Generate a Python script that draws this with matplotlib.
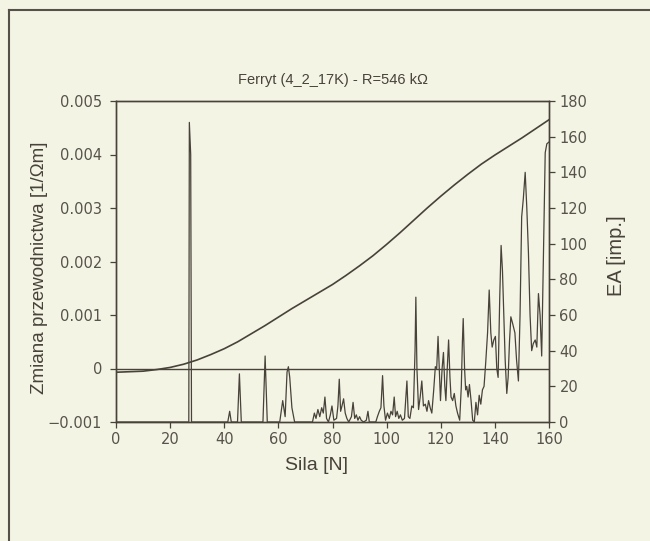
import matplotlib
matplotlib.use("Agg")
import matplotlib.pyplot as plt
from matplotlib.lines import Line2D

# ---- data ----
force_curve = [0, 5, 10, 15, 20, 25, 30, 35, 40, 45, 50, 55, 60, 65, 70, 75, 80,
               85, 90, 95, 100, 105, 110, 115, 120, 125, 130, 135, 140, 145, 150, 155, 160]
conductivity = [-0.07, -0.06, -0.05, -0.02, 0.02, 0.08, 0.16, 0.26, 0.37, 0.50, 0.65,
                0.80, 0.96, 1.12, 1.27, 1.42, 1.57, 1.74, 1.92, 2.11, 2.32, 2.54, 2.77,
                3.00, 3.22, 3.43, 3.63, 3.82, 3.99, 4.15, 4.31, 4.48, 4.65]
conductivity = [v * 1e-3 for v in conductivity]

ea_force = [0, 26.9, 27.1, 27.6, 27.9,
            41.3, 42.0, 42.6,
            44.9, 45.6, 46.3,
            54.3, 55.1, 55.9,
            60.5, 61.6, 62.5, 63.2, 63.7, 64.2, 65.0, 66.0,
            72.6, 73.3, 73.9, 74.6, 75.3, 76.0, 76.6, 77.2, 77.8, 78.5, 79.2, 79.8, 80.5,
            81.5, 82.0, 82.5, 83.0, 83.5, 84.1, 84.7, 85.3, 86.0, 87.0, 87.6, 88.2, 88.8,
            89.4, 90.0, 90.6, 91.5, 92.5, 93.1, 93.6, 96.0, 96.6, 97.3, 97.9, 98.5, 99.0,
            99.6, 100.3, 101.0, 101.6, 102.2, 102.8, 103.3, 103.9, 104.5, 105.1, 105.8,
            106.6, 107.5, 108.0, 108.6, 109.3, 109.9, 110.5, 110.8, 111.2, 111.8, 112.4,
            113.0, 113.6, 114.3, 114.9, 115.5, 116.1, 116.7, 117.4, 118.0, 118.5, 119.0,
            119.5, 119.9, 120.5, 121.0, 121.5, 121.9, 122.4, 122.9, 123.4, 123.8, 124.4,
            125.0, 125.6, 126.2, 127.0, 127.6, 128.0, 128.3, 128.8, 129.2, 129.6, 130.1,
            130.6, 131.2, 131.8, 132.4, 133.0, 133.6, 134.2, 134.8, 135.4, 136.0, 136.6,
            137.3, 137.9, 138.5, 139.0, 139.6, 140.2, 140.7, 141.2, 141.8, 142.3, 142.8,
            143.3, 143.8, 144.4, 144.9, 145.4, 145.9, 146.6, 147.4, 148.0, 148.7, 149.3,
            149.9, 150.5, 151.2, 151.8, 152.4, 153.0, 153.6, 154.2, 154.9, 155.5, 156.1,
            156.7, 157.3, 157.9, 158.6, 159.2, 160.0]
ea_counts = [0, 0, 168, 150, 0,
             0, 6, 0,
             0, 27, 0,
             0, 37, 0,
             0, 12, 3, 28, 31, 25, 8, 0,
             0, 5, 2, 7, 3, 8, 5, 14, 2, 0, 4, 9, 1,
             2, 9, 24, 6, 9, 13, 5, 2, 0, 3, 11, 2, 4,
             1, 3, 1, 0, 1, 6, 0, 0, 3, 6, 8, 26, 9,
             1, 5, 2, 6, 4, 14, 3, 6, 2, 4, 1,
             2, 23, 3, 2, 9, 8, 40, 70, 30, 7, 14,
             23, 9, 10, 6, 12, 8, 5, 18, 31, 30, 48,
             28, 12, 30, 39, 20, 12, 30, 46, 25, 14, 12,
             16, 9, 5, 1, 20, 45, 58, 30, 18, 20, 14,
             21, 12, 1, 0, 11, 4, 15, 10, 18, 20, 33,
             50, 74, 50, 42, 46, 48, 30, 25, 70, 99, 85,
             60, 35, 16, 25, 45, 59, 55, 50, 35, 23, 60,
             115, 125, 140, 120, 95, 60, 40, 44, 46, 42, 72,
             60, 37, 90, 151, 156, 157]

title = "Ferryt (4_2_17K) - R=546 k\u03a9"
xlabel = "Sila [N]"
ylabel_left = "Zmiana przewodnictwa [1/\u03a9m]"
ylabel_right = "EA [imp.]"
x_ticks = [0, 20, 40, 60, 80, 100, 120, 140, 160]
left_ticks = [-0.001, 0, 0.001, 0.002, 0.003, 0.004, 0.005]
left_tick_labels = ["\u22120.001", "0", "0.001", "0.002", "0.003", "0.004", "0.005"]
right_ticks = [0, 20, 40, 60, 80, 100, 120, 140, 160, 180]

# ---- style ----
bg = "#f3f4e4"
ink = "#48423a"
tick_ink = "#57524b"
plt.rcParams['font.family'] = ['Liberation Sans', 'DejaVu Sans']

fig = plt.figure(figsize=(6.5, 5.41), dpi=100, facecolor=bg)
ax = fig.add_axes([116/650, 1-422/541, (549-116)/650, (422-101)/541])
ax.set_facecolor(bg)
ax2 = ax.twinx()

ax.plot(force_curve, conductivity, color=ink, lw=1.2, zorder=3)
ax.axhline(0, color=ink, lw=1.0, zorder=2)
ax2.plot(ea_force, ea_counts, color=ink, lw=0.9)

ax.set_xlim(0, 160)
ax.set_ylim(-0.001, 0.005)
ax2.set_ylim(0, 180)
ax.set_xticks(x_ticks)
ax.set_yticks(left_ticks)
ax.set_yticklabels(left_tick_labels)
ax2.set_yticks(right_ticks)

for a in (ax, ax2):
    for s in a.spines.values():
        s.set_color(ink)
        s.set_linewidth(1.0)
    a.tick_params(colors=ink, direction='out', length=4, width=0.9,
                  labelsize=10.5, labelcolor=tick_ink)
ax.tick_params(axis='y', pad=6)
ax.tick_params(axis='x', pad=3)
for lab in ax.get_xticklabels() + ax.get_yticklabels() + ax2.get_yticklabels():
    lab.set_fontfamily('DejaVu Sans')

ax.set_title(title, fontsize=10.5, color=ink, pad=12)
ax.set_xlabel(xlabel, fontsize=14, color=ink)
ax.xaxis.set_label_coords(0.462, -0.109)
ax.set_ylabel(ylabel_left, fontsize=13.5, color=ink)
ax.yaxis.set_label_coords(-0.157, 0.48)
ax2.set_ylabel(ylabel_right, fontsize=14.5, color=ink)
ax2.yaxis.set_label_coords(1.134, 0.517)

# scanned page frame
fig.add_artist(Line2D([8.5/650, 8.5/650], [0, 1-10/541], transform=fig.transFigure,
                      color="#555049", lw=1.5))
fig.add_artist(Line2D([8.5/650, 1], [1-10/541, 1-10/541], transform=fig.transFigure,
                      color="#555049", lw=1.5))

fig.savefig("out.png", dpi=100, facecolor=bg)
